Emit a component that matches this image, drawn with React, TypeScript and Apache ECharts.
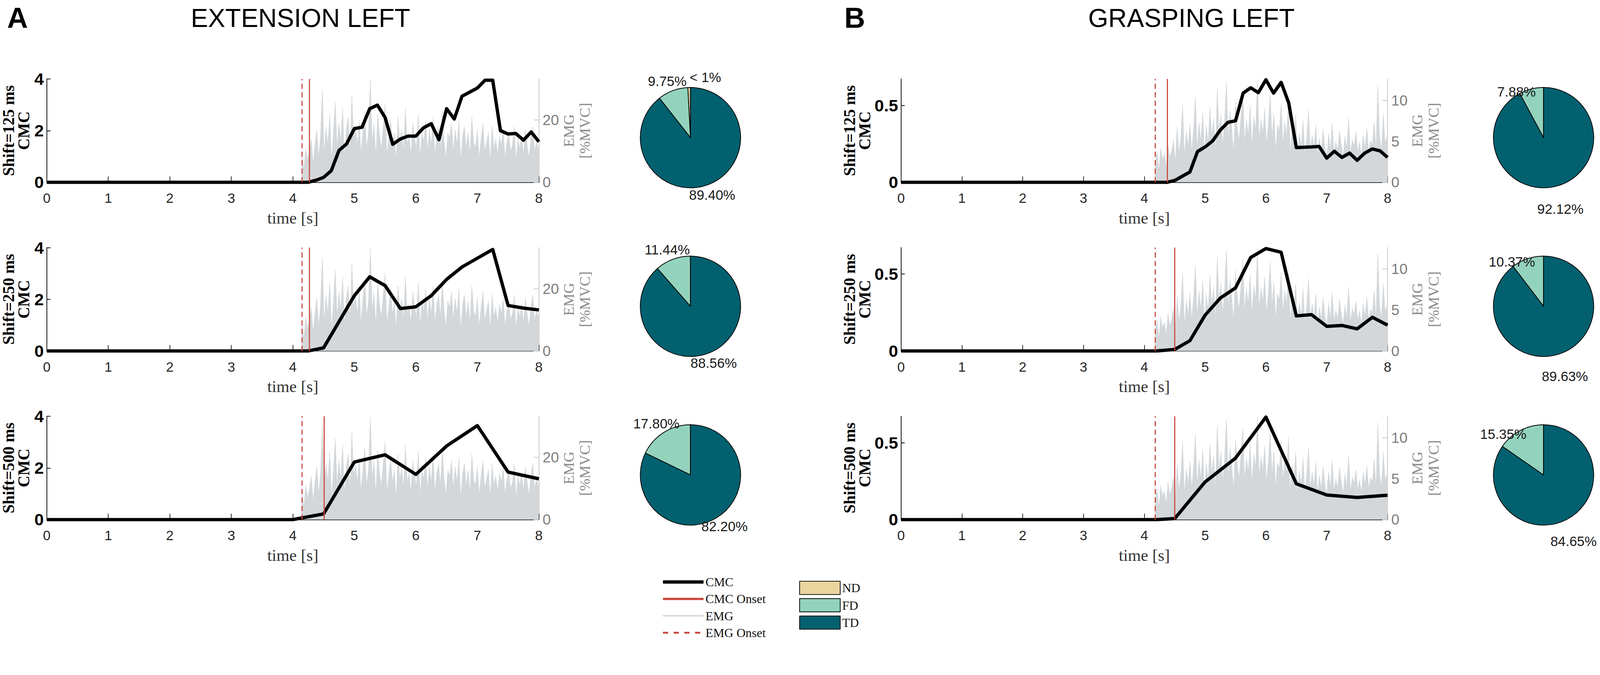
import React, { useEffect, useRef } from "react";
import * as echarts from "echarts";

// ---------- text ----------
const PANEL_LETTERS = ["A", "B"];
const PANEL_TITLES = ["EXTENSION LEFT", "GRASPING LEFT"];
const SHIFT_LABELS = ["Shift=125 ms", "Shift=250 ms", "Shift=500 ms"];
const X_NAME = "time [s]";
const CMC_NAME = "CMC";
const EMG_NAME = "EMG\n[%MVC]";
const LINE_LEGEND = ["CMC", "CMC Onset", "EMG", "EMG Onset"];
const PIE_NAMES = ["ND", "FD", "TD"];

// ---------- axes ----------
const X_MIN = 0;
const X_MAX = 8;
const X_INTERVAL = 1;
const EXT_CMC_MAX = 4;
const EXT_CMC_INTERVAL = 2;
const EXT_EMG_MAX = 33.2;
const EXT_EMG_INTERVAL = 20;
const GRA_CMC_MAX = 0.672;
const GRA_CMC_INTERVAL = 0.5;
const GRA_EMG_MAX = 12.6;
const GRA_EMG_INTERVAL = 5;

// ---------- CMC curves [time s, CMC] ----------
const EXT_CMC_125 = [[0, 0], [4.25, 0], [4.375, 0.08], [4.5, 0.19], [4.625, 0.45], [4.75, 1.23], [4.875, 1.49], [5.0, 2.08], [5.125, 2.13], [5.25, 2.85], [5.375, 2.99], [5.5, 2.51], [5.625, 1.47], [5.75, 1.68], [5.875, 1.79], [6.0, 1.79], [6.125, 2.11], [6.25, 2.27], [6.375, 1.65], [6.5, 2.85], [6.625, 2.45], [6.75, 3.33], [6.875, 3.49], [7.0, 3.65], [7.125, 3.95], [7.25, 3.95], [7.375, 2.0], [7.5, 1.87], [7.625, 1.89], [7.75, 1.63], [7.875, 1.95], [8.0, 1.57]];
const EXT_CMC_250 = [[0, 0], [4.25, 0], [4.5, 0.12], [5.0, 2.14], [5.25, 2.87], [5.5, 2.53], [5.75, 1.64], [6.0, 1.71], [6.25, 2.14], [6.5, 2.77], [6.75, 3.25], [7.0, 3.59], [7.25, 3.93], [7.5, 1.76], [7.75, 1.66], [8.0, 1.59]];
const EXT_CMC_500 = [[0, 0], [4.0, 0], [4.5, 0.22], [5.0, 2.23], [5.5, 2.51], [6.0, 1.75], [6.5, 2.85], [7.0, 3.64], [7.5, 1.84], [8.0, 1.58]];
const GRA_CMC_125 = [[0, 0], [4.375, 0], [4.5, 0.012], [4.75, 0.067], [4.875, 0.2], [5.0, 0.23], [5.125, 0.27], [5.25, 0.34], [5.375, 0.39], [5.5, 0.4], [5.625, 0.58], [5.75, 0.615], [5.875, 0.583], [6.0, 0.667], [6.125, 0.58], [6.25, 0.65], [6.375, 0.516], [6.5, 0.226], [6.625, 0.228], [6.75, 0.23], [6.875, 0.233], [7.0, 0.157], [7.125, 0.202], [7.25, 0.162], [7.375, 0.19], [7.5, 0.143], [7.625, 0.19], [7.75, 0.217], [7.875, 0.205], [8.0, 0.162]];
const GRA_CMC_250 = [[0, 0], [4.2, 0], [4.5, 0.01], [4.75, 0.067], [5.0, 0.233], [5.25, 0.344], [5.5, 0.41], [5.75, 0.608], [6.0, 0.666], [6.25, 0.642], [6.5, 0.228], [6.75, 0.236], [7.0, 0.16], [7.25, 0.166], [7.5, 0.144], [7.75, 0.219], [8.0, 0.168]];
const GRA_CMC_500 = [[0, 0], [4.2, 0], [4.5, 0.007], [5.0, 0.245], [5.5, 0.4], [6.0, 0.667], [6.5, 0.233], [7.0, 0.16], [7.5, 0.144], [8.0, 0.159]];

// ---------- onsets [s] per shift ----------
const EXT_EMG_ONSET = [4.15, 4.15, 4.15];
const EXT_CMC_ONSET = [4.27, 4.27, 4.51];
const GRA_EMG_ONSET = [4.18, 4.18, 4.18];
const GRA_CMC_ONSET = [4.38, 4.5, 4.5];

// ---------- EMG (%MVC), sampled every EMG_STEP s from its start ----------
const EMG_STEP = 0.03;
const EXT_EMG_START = 4.15;
const EXT_EMG = [
  9, 4, 11, 7, 10, 14, 6, 12, 17, 8,
  15, 30, 9, 18, 12, 22, 7, 16, 26, 11,
  19, 13, 24, 8, 17, 21, 10, 28, 14, 18,
  12, 20, 9, 17, 23, 11, 16, 33, 13, 19,
  8, 22, 15, 11, 18, 25, 9, 14, 20, 12,
  16, 7, 21, 13, 17, 10, 24, 12, 15, 9,
  19, 14, 11, 22, 8, 16, 13, 20, 10, 17,
  12, 21, 9, 15, 18, 11, 23, 13, 8, 16,
  14, 19, 10, 17, 12, 20, 7, 15, 18, 11,
  16, 9, 21, 13, 11, 17, 8, 14, 19, 10,
  13, 16, 7, 18, 11, 14, 9, 15, 12, 17,
  8, 13, 16, 10, 12, 18, 7, 14, 11, 15,
  9, 17, 12, 8, 14, 18, 10, 13, 11,
];
const GRA_EMG_START = 4.18;
const GRA_EMG = [
  2.5, 3.8, 1.5, 4.2, 2.8, 3.5, 1.9, 4.6, 3.0, 3.9,
  5.2, 2.4, 6.8, 3.6, 5.5, 9.5, 3.1, 6.2, 4.4, 7.1,
  3.8, 6.5, 10.4, 4.2, 7.3, 5.0, 8.6, 3.5, 6.9, 4.8,
  9.2, 5.6, 7.8, 3.9, 11.5, 6.1, 8.3, 4.7, 7.5, 12.3,
  5.3, 8.8, 6.4, 3.7, 9.8, 6.6, 5.1, 8.1, 11.2, 4.9,
  7.6, 5.8, 9.4, 4.4, 8.0, 6.3, 12.5, 5.2, 7.7, 6.0,
  9.0, 4.6, 7.2, 10.8, 5.5, 8.4, 3.9, 7.0, 6.2, 9.6,
  4.8, 7.4, 5.6, 10.1, 3.6, 6.7, 5.0, 8.2, 3.4, 6.1,
  4.2, 7.6, 3.5, 5.3, 8.8, 3.9, 5.8, 4.1, 7.0, 3.3,
  5.4, 3.8, 6.5, 4.3, 3.1, 5.9, 4.0, 7.2, 3.6, 5.0,
  3.9, 6.3, 4.5, 3.2, 5.6, 4.1, 7.8, 3.5, 5.2, 4.4,
  6.1, 3.7, 4.9, 3.3, 5.8, 4.2, 6.6, 3.8, 5.1, 4.6,
  7.4, 3.9, 11.8, 5.5, 4.0, 8.3, 4.7, 5.6,
];

// ---------- pie shares [ND, FD, TD] in % ----------
const EXT_PIE_125 = [0.85, 9.75, 89.4];
const EXT_PIE_250 = [0, 11.44, 88.56];
const EXT_PIE_500 = [0, 17.8, 82.2];
const GRA_PIE_125 = [0, 7.88, 92.12];
const GRA_PIE_250 = [0, 10.37, 89.63];
const GRA_PIE_500 = [0, 15.35, 84.65];

// ---------- styles (in reference pixels; scaled to the page at run time) ----------
const REF_W = 4338;
const REF_H = 1727;
const SERIF = "'Liberation Serif', 'DejaVu Serif', serif";
const SANS = "'Liberation Sans', Arial, sans-serif";
const RED = "#c8463b";
const EMG_GRAY = "#d3d7da";
const PIE_COLORS = ["#ead59f", "#93d3bd", "#02606f"];
const ROW_TOPS = [214, 671, 1128];
const PLOT_H = 280;

const PANELS = [
  {
    left: 122, width: 1339, pieX: 1872, cmcNameGap: 42, titleLeft: 512, letterLeft: 14,
    labelDy: 0, fdDx: 0,
    cmc: [EXT_CMC_125, EXT_CMC_250, EXT_CMC_500],
    cmcMax: EXT_CMC_MAX, cmcInterval: EXT_CMC_INTERVAL,
    emg: EXT_EMG, emgStart: EXT_EMG_START, emgMax: EXT_EMG_MAX, emgInterval: EXT_EMG_INTERVAL,
    emgOnset: EXT_EMG_ONSET, cmcOnset: EXT_CMC_ONSET,
    pies: [EXT_PIE_125, EXT_PIE_250, EXT_PIE_500],
  },
  {
    left: 2443, width: 1319, pieX: 4185, cmcNameGap: 70, titleLeft: 2945, letterLeft: 2284,
    labelDy: 34, fdDx: -28,
    cmc: [GRA_CMC_125, GRA_CMC_250, GRA_CMC_500],
    cmcMax: GRA_CMC_MAX, cmcInterval: GRA_CMC_INTERVAL,
    emg: GRA_EMG, emgStart: GRA_EMG_START, emgMax: GRA_EMG_MAX, emgInterval: GRA_EMG_INTERVAL,
    emgOnset: GRA_EMG_ONSET, cmcOnset: GRA_CMC_ONSET,
    pies: [GRA_PIE_125, GRA_PIE_250, GRA_PIE_500],
  },
];

function pieLabel(p: any) {
  const v = p.value as number;
  if (v === 0) return "";
  if (v < 1) return "< 1%";
  return v.toFixed(2) + "%";
}

function buildOption(k: number) {
  const s = (v: number) => v * k;
  const grid: any[] = [];
  const xAxis: any[] = [];
  const yAxis: any[] = [];
  const series: any[] = [];
  const title: any[] = [];

  PANELS.forEach((P, p) => {
    title.push({
      text: PANEL_LETTERS[p], left: s(P.letterLeft), top: s(4),
      textStyle: { fontFamily: SANS, fontWeight: "bold", fontSize: s(78), color: "#000" },
    });
    title.push({
      text: PANEL_TITLES[p], left: s(P.titleLeft), top: s(8),
      textStyle: { fontFamily: SANS, fontWeight: "normal", fontSize: s(70), color: "#000" },
    });

    const emgData: number[][] = [[0, 0], [P.emgStart - 0.01, 0]];
    P.emg.forEach((v, i) => emgData.push([P.emgStart + i * EMG_STEP, v]));
    emgData.push([X_MAX, P.emg[P.emg.length - 1]]);

    for (let r = 0; r < 3; r++) {
      const g = grid.length;
      grid.push({ left: s(P.left), top: s(ROW_TOPS[r]), width: s(P.width), height: s(PLOT_H), containLabel: false });
      xAxis.push({
        type: "value", gridIndex: g, min: X_MIN, max: X_MAX, interval: X_INTERVAL,
        name: X_NAME, nameLocation: "middle", nameGap: s(74),
        nameTextStyle: { fontFamily: SERIF, fontSize: s(45), color: "#333" },
        axisLine: { show: true, onZero: false, lineStyle: { color: "#000", width: s(2) } },
        axisTick: { show: true, inside: true, length: s(16), lineStyle: { color: "#222", width: s(2) } },
        axisLabel: { fontFamily: SANS, fontSize: s(37), color: "#262626", margin: s(24) },
        splitLine: { show: false },
      });
      yAxis.push({
        type: "value", gridIndex: g, position: "left", min: 0, max: P.cmcMax, interval: P.cmcInterval,
        name: SHIFT_LABELS[r] + "\n" + CMC_NAME, nameLocation: "middle", nameRotate: 90, nameGap: s(P.cmcNameGap),
        nameTextStyle: { fontFamily: SERIF, fontWeight: "bold", fontSize: s(44), lineHeight: s(41), color: "#000" },
        axisLine: { show: true, onZero: false, lineStyle: { color: "#000", width: s(2) } },
        axisTick: { show: true, inside: true, length: s(10), lineStyle: { color: "#000", width: s(2) } },
        axisLabel: { fontFamily: SANS, fontWeight: "bold", fontSize: s(46), color: "#000", margin: s(8), showMaxLabel: P.cmcMax % P.cmcInterval === 0 },
        splitLine: { show: false },
      });
      yAxis.push({
        type: "value", gridIndex: g, position: "right", min: 0, max: P.emgMax, interval: P.emgInterval,
        name: EMG_NAME, nameLocation: "middle", nameRotate: 90, nameGap: s(54),
        nameTextStyle: { fontFamily: SERIF, fontSize: s(40), lineHeight: s(44), color: "#8a8a8a" },
        axisLine: { show: true, onZero: false, lineStyle: { color: "#c6c6c6", width: s(2) } },
        axisTick: { show: true, inside: true, length: s(14), lineStyle: { color: "#c6c6c6", width: s(2) } },
        axisLabel: { fontFamily: SANS, fontSize: s(40), color: "#7d7d7d", margin: s(10), showMaxLabel: false },
        splitLine: { show: false },
      });

      series.push({
        type: "line", name: "EMG", xAxisIndex: g, yAxisIndex: 2 * g + 1, data: emgData,
        symbol: "none", silent: true, z: 1,
        lineStyle: { width: s(1), color: EMG_GRAY }, itemStyle: { color: EMG_GRAY },
        areaStyle: { color: EMG_GRAY, opacity: 1 },
      });
      series.push({
        type: "line", name: "CMC", xAxisIndex: g, yAxisIndex: 2 * g, data: P.cmc[r],
        symbol: "none", silent: true, z: 3,
        lineStyle: { width: s(9), color: "#000", join: "round" }, itemStyle: { color: "#000" },
      });
      series.push({
        type: "line", name: "EMG Onset", xAxisIndex: g, yAxisIndex: 2 * g,
        data: [[P.emgOnset[r], 0], [P.emgOnset[r], P.cmcMax]],
        symbol: "none", silent: true, z: 4,
        lineStyle: { width: s(3), color: RED, type: [s(14), s(9)] }, itemStyle: { color: RED },
      });
      series.push({
        type: "line", name: "CMC Onset", xAxisIndex: g, yAxisIndex: 2 * g,
        data: [[P.cmcOnset[r], 0], [P.cmcOnset[r], P.cmcMax]],
        symbol: "none", silent: true, z: 4,
        lineStyle: { width: s(3), color: RED }, itemStyle: { color: RED },
      });

      const labelDy = P.labelDy;
      const fdDx = P.fdDx;
      series.push({
        type: "pie", name: "pie" + p + r, center: [s(P.pieX), s(ROW_TOPS[r] + 159)], radius: s(136),
        startAngle: 90, clockwise: false, avoidLabelOverlap: false, silent: true,
        data: PIE_NAMES.map((n, q) => ({ name: n, value: P.pies[r][q], itemStyle: { color: PIE_COLORS[q] } })),
        itemStyle: { borderColor: "#000", borderWidth: s(2) },
        label: { show: true, position: "outside", formatter: pieLabel, fontFamily: SANS, fontSize: s(37), color: "#1a1a1a" },
        labelLine: { show: false, length: s(28), length2: 0 },
        labelLayout: (params: any) => ({
          align: "center",
          verticalAlign: "middle",
          dx: params.dataIndex === 0 ? s(50) : params.dataIndex === 1 ? s(fdDx) : 0,
          dy: s(labelDy),
        }),
        emphasis: { disabled: true },
      });
    }
  });

  const lineLegendStyles: any = {
    "CMC": { width: s(9) },
    "CMC Onset": { width: s(6) },
    "EMG": { width: s(3), color: "#c8cbd0" },
    "EMG Onset": { width: s(5), type: [s(14), s(15)] },
  };

  return {
    animation: false,
    backgroundColor: "#fff",
    title,
    grid,
    xAxis,
    yAxis,
    series,
    legend: [
      {
        data: LINE_LEGEND.map((n) => ({ name: n, lineStyle: lineLegendStyles[n] })),
        orient: "vertical", left: s(1793), top: s(1560), height: s(230),
        itemWidth: s(110), itemHeight: s(20), itemGap: s(12),
        itemStyle: { opacity: 0 }, selectedMode: false, padding: 0,
        textStyle: { fontFamily: SERIF, fontSize: s(34), color: "#111" },
      },
      {
        data: PIE_NAMES, icon: "rect",
        orient: "vertical", left: s(2167), top: s(1574), height: s(200),
        itemWidth: s(110), itemHeight: s(36), itemGap: s(9),
        selectedMode: false, padding: 0,
        itemStyle: { borderColor: "#000", borderWidth: s(2) },
        textStyle: { fontFamily: SERIF, fontSize: s(34), color: "#111" },
      },
    ],
  };
}

export default function App() {
  const ref = useRef<HTMLDivElement>(null);
  useEffect(() => {
    const el = ref.current;
    if (!el) return;
    const k = Math.min(el.clientWidth / REF_W, el.clientHeight / REF_H);
    const chart = echarts.init(el, null, { renderer: "svg" });
    chart.setOption(buildOption(k) as any);
    return () => chart.dispose();
  }, []);
  return (
    <div
      ref={ref}
      style={{ position: "fixed", left: 0, top: 0, width: "100vw", height: "100vh", background: "#fff" }}
    />
  );
}
